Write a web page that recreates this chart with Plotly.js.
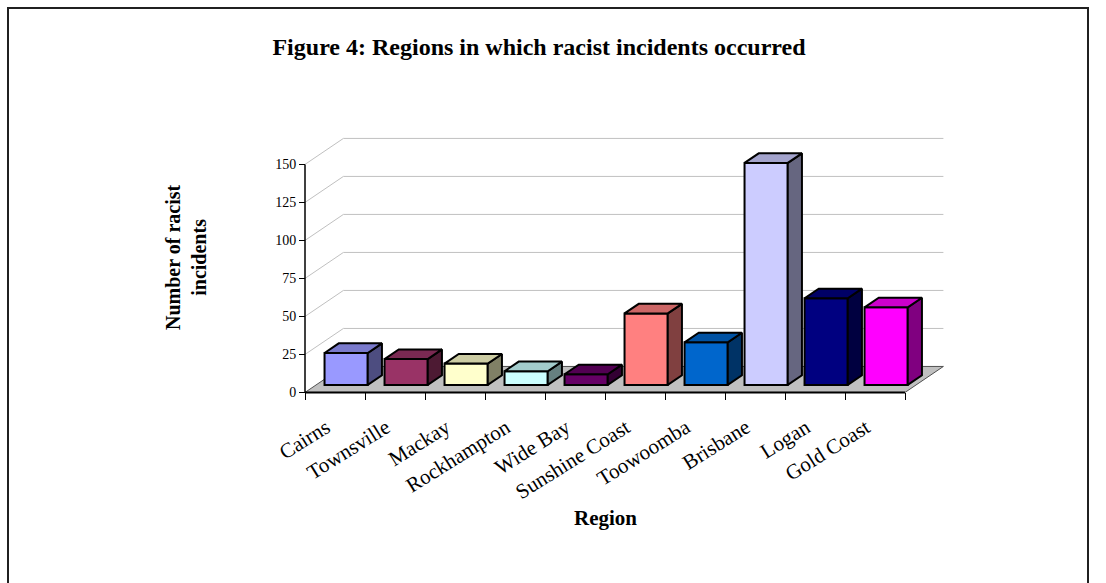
<!DOCTYPE html>
<html>
<head>
<meta charset="utf-8">
<script src="https://cdn.plot.ly/plotly-3.0.1.min.js"></script>
<style>
  html, body { margin: 0; padding: 0; background: #ffffff; }
  #chart { width: 1106px; height: 583px; }
</style>
</head>
<body>
<div id="chart"></div>
<script>
// ---- data ----
const categories = ['Cairns', 'Townsville', 'Mackay', 'Rockhampton', 'Wide Bay',
                    'Sunshine Coast', 'Toowoomba', 'Brisbane', 'Logan', 'Gold Coast'];
const incidents = [21, 17, 14, 9, 7, 47, 28, 146, 57, 51];
const barColors = ['#9999FF', '#993366', '#FFFFCC', '#CCFFFF', '#660066',
                   '#FF8080', '#0066CC', '#CCCCFF', '#000080', '#FF00FF'];
const yTickVals = [0, 25, 50, 75, 100, 125, 150];

// ---- 3D geometry (oblique projection in axis units) ----
const DEPTH_X = 0.64;   // category units for full floor depth
const DEPTH_Y = 17.1;   // value units for full floor depth
const D_FRONT = 0.29;   // bar front position in depth
const D_BACK = 0.66;    // bar back position in depth
const GAP = 0.14;       // gap each side of bar in category
const YMAX = 150;
const N = categories.length;

const X_RANGE = [-0.1, 10.8];
const Y_RANGE = [-3, 170];
const M = { l: 299, r: 153, t: 134, b: 186 };
const W = 1106, H = 583;
const plotW = W - M.l - M.r, plotH = H - M.t - M.b;
const pxToPaperX = px => (px - M.l) / plotW;
const pxToPaperY = py => (H - M.b - py) / plotH;

function shade(hex, f) {
  const n = parseInt(hex.slice(1), 16);
  const r = Math.round(((n >> 16) & 255) * f);
  const g = Math.round(((n >> 8) & 255) * f);
  const b = Math.round((n & 255) * f);
  return 'rgb(' + r + ',' + g + ',' + b + ')';
}
function poly(xs, ys, fill) {
  return {
    type: 'scatter', mode: 'lines',
    x: xs.concat([xs[0]]), y: ys.concat([ys[0]]),
    fill: 'toself', fillcolor: fill,
    line: { color: '#000000', width: 2 },
    hoverinfo: 'skip', showlegend: false
  };
}
function pathOf(xs, ys, close) {
  let s = 'M ' + xs[0] + ',' + ys[0];
  for (let i = 1; i < xs.length; i++) s += ' L ' + xs[i] + ',' + ys[i];
  return close ? s + ' Z' : s;
}

const shapes = [];
// floor
shapes.push({
  type: 'path', xref: 'x', yref: 'y', layer: 'below',
  path: pathOf([0, N, N + DEPTH_X, DEPTH_X], [0, 0, DEPTH_Y, DEPTH_Y], true),
  fillcolor: '#C0C0C0', line: { color: '#505050', width: 1 }
});
// wall gridlines (left wall diagonal + back wall horizontal)
yTickVals.forEach(v => {
  if (v === 0) return;
  shapes.push({
    type: 'path', xref: 'x', yref: 'y', layer: 'below',
    path: pathOf([0, DEPTH_X, N + DEPTH_X], [v, v + DEPTH_Y, v + DEPTH_Y], false),
    line: { color: '#C0C0C0', width: 1 }
  });
});
// axis lines
shapes.push({ type: 'line', xref: 'x', yref: 'y', x0: 0, x1: 0, y0: 0, y1: YMAX,
              line: { color: '#000000', width: 1.5 }, layer: 'above' });
shapes.push({ type: 'line', xref: 'x', yref: 'y', x0: 0, x1: N, y0: 0, y1: 0,
              line: { color: '#000000', width: 2 }, layer: 'above' });
// outer frame
shapes.push({ type: 'rect', xref: 'paper', yref: 'paper',
  x0: pxToPaperX(8), x1: pxToPaperX(1088), y0: pxToPaperY(640), y1: pxToPaperY(8),
  line: { color: '#202020', width: 2 }, fillcolor: 'rgba(0,0,0,0)', layer: 'above' });

const sx = D_FRONT * DEPTH_X, sy = D_FRONT * DEPTH_Y;
const ddx = (D_BACK - D_FRONT) * DEPTH_X, ddy = (D_BACK - D_FRONT) * DEPTH_Y;

const traces = [];
traces.push({
  type: 'bar',
  x: categories.map((c, i) => i + 0.5 + sx),
  y: incidents,
  base: incidents.map(() => sy),
  width: 1 - 2 * GAP,
  marker: { color: barColors, line: { color: '#000000', width: 2 } },
  hoverinfo: 'skip', showlegend: false
});
incidents.forEach((v, i) => {
  const xL = i + GAP + sx, xR = i + 1 - GAP + sx;
  const yb = sy, yt = sy + v;
  traces.push(poly([xR, xR, xR + ddx, xR + ddx], [yb, yt, yt + ddy, yb + ddy], shade(barColors[i], 0.5)));
  traces.push(poly([xL, xR, xR + ddx, xL + ddx], [yt, yt, yt + ddy, yt + ddy], shade(barColors[i], 0.8)));
});

const serif = 'Liberation Serif, Times New Roman, serif';
const layout = {
  width: W, height: H,
  margin: M,
  paper_bgcolor: '#ffffff', plot_bgcolor: 'rgba(0,0,0,0)',
  showlegend: false,
  title: {
    text: '<b>Figure 4: Regions in which racist incidents occurred</b>',
    font: { family: serif, size: 24, color: '#000000' },
    xref: 'container', yref: 'container', x: 539 / W, y: 1 - 47 / H,
    xanchor: 'center', yanchor: 'middle'
  },
  xaxis: {
    range: X_RANGE, fixedrange: true, showgrid: false, zeroline: false, showline: false,
    anchor: 'free', position: (0 - Y_RANGE[0]) / (Y_RANGE[1] - Y_RANGE[0]),
    tickmode: 'array', tickvals: categories.map((c, i) => i + 0.5), ticktext: categories,
    ticks: '', tickangle: -32,
    ticklabelstandoff: 18, ticklabelshift: -9,
    tickfont: { family: serif, size: 21, color: '#000000' },
    minor: { tickmode: 'array', tickvals: categories.map((c, i) => i).concat([N]),
             ticks: 'outside', ticklen: 7, tickwidth: 1, tickcolor: '#000000', showgrid: false },
    automargin: false
  },
  yaxis: {
    range: Y_RANGE, fixedrange: true, showgrid: false, zeroline: false, showline: false,
    anchor: 'free', position: (0 - X_RANGE[0]) / (X_RANGE[1] - X_RANGE[0]),
    tickmode: 'array', tickvals: yTickVals,
    ticks: 'outside', ticklen: 6, tickwidth: 1, tickcolor: '#000000',
    tickfont: { family: serif, size: 14, color: '#000000' },
    automargin: false
  },
  shapes: shapes,
  annotations: [
    { text: '<b>Region</b>', xref: 'paper', yref: 'paper',
      x: pxToPaperX(605), y: pxToPaperY(518), xanchor: 'center', yanchor: 'middle',
      showarrow: false, font: { family: serif, size: 21, color: '#000000' } },
    { text: '<b>Number of racist<br>incidents</b>', xref: 'paper', yref: 'paper',
      x: pxToPaperX(186), y: pxToPaperY(258), xanchor: 'center', yanchor: 'middle',
      textangle: -90, showarrow: false,
      font: { family: serif, size: 20, color: '#000000' } }
  ]
};

Plotly.newPlot('chart', traces, layout, { staticPlot: true, displayModeBar: false });
</script>
</body>
</html>
